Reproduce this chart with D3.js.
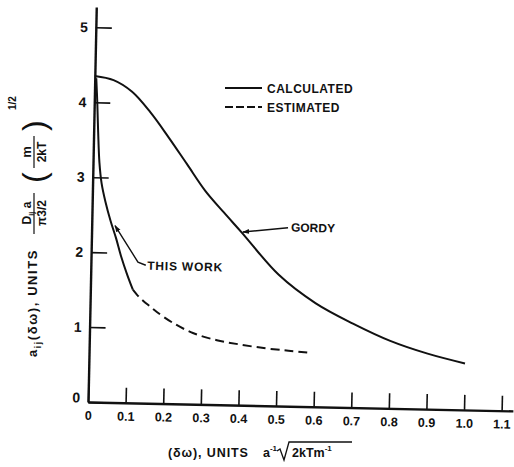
<!DOCTYPE html>
<html>
<head>
<meta charset="utf-8">
<script src="https://cdn.jsdelivr.net/npm/d3@7"></script>
<style>
  body { margin: 0; background: #fff; }
  text { font-family: "Liberation Sans", Arial, sans-serif; fill: #111; }
</style>
</head>
<body>
<svg id="chart" width="514" height="467"></svg>
<script>
// tick values / labels
const xTicks = [0, 0.1, 0.2, 0.3, 0.4, 0.5, 0.6, 0.7, 0.8, 0.9, 1.0, 1.1];
const xTickLabels = ['0', '0.1', '0.2', '0.3', '0.4', '0.5', '0.6', '0.7', '0.8', '0.9', '1.0', '1.1'];
const yTicks = [0, 1, 2, 3, 4, 5];

// Gordy curve (calculated)
const gordyX = [0, 0.05, 0.1, 0.15, 0.2, 0.25, 0.3, 0.35, 0.4, 0.5, 0.6, 0.7, 0.8, 0.9, 1.0];
const gordyY = [4.35, 4.30, 4.15, 3.88, 3.55, 3.20, 2.85, 2.57, 2.30, 1.75, 1.38, 1.12, 0.90, 0.74, 0.62];

// this work, calculated part
const workX = [0.004, 0.008, 0.012, 0.017, 0.024, 0.035, 0.05, 0.065, 0.08, 0.097, 0.113];
const workY = [4.32, 4.00, 3.60, 3.20, 2.92, 2.68, 2.42, 2.20, 1.95, 1.71, 1.51];

// this work, estimated part
const estX = [0.113, 0.125, 0.14, 0.16, 0.178, 0.221, 0.275, 0.339, 0.40, 0.47, 0.53, 0.58];
const estY = [1.51, 1.44, 1.37, 1.29, 1.22, 1.08, 0.95, 0.86, 0.81, 0.765, 0.74, 0.72];

const svg = d3.select('#chart');

// the scanned figure sits a little crooked
const tilt = 1.2;
const origin = [88, 402];

const x = d3.scaleLinear().domain([0, 1.13]).range([0, 425]);
const y = d3.scaleLinear().domain([0, 5.27]).range([0, -395]);

const g = svg.append('g')
  .attr('transform', 'translate(' + origin[0] + ',' + origin[1] + ') rotate(' + tilt + ')');

// arrow heads for the leaders
svg.append('defs').append('marker')
  .attr('id', 'arrow')
  .attr('viewBox', '0 0 10 10')
  .attr('refX', 9).attr('refY', 5)
  .attr('markerWidth', 7).attr('markerHeight', 7)
  .attr('markerUnits', 'userSpaceOnUse')
  .attr('orient', 'auto')
  .append('path')
  .attr('d', 'M0,1.5 L10,5 L0,8.5 Z')
  .attr('fill', '#111');

const xAxis = d3.axisBottom(x)
  .tickValues(xTicks)
  .tickFormat((d, i) => xTickLabels[i])
  .tickSizeInner(-15)
  .tickSizeOuter(0)
  .tickPadding(9);

const yAxis = d3.axisLeft(y)
  .tickValues(yTicks)
  .tickFormat(d3.format('d'))
  .tickSizeInner(-16)
  .tickSizeOuter(0)
  .tickPadding(8);

const gx = g.append('g').attr('class', 'x axis').call(xAxis);
const gy = g.append('g').attr('class', 'y axis').call(yAxis);

gx.selectAll('text').attr('font-size', 12.5).attr('font-weight', 'bold').attr('font-family', null);
gy.selectAll('text').attr('font-size', 14).attr('font-weight', 'bold').attr('font-family', null);
gy.selectAll('.tick').filter(d => d === 0).select('text').attr('dy', '0.0em');

g.selectAll('.domain').attr('stroke', '#111').attr('stroke-width', 2.4);
g.selectAll('.tick line').attr('stroke', '#111').attr('stroke-width', 1.6);

const line = d3.line()
  .x(d => x(d[0]))
  .y(d => y(d[1]))
  .curve(d3.curveCatmullRom.alpha(0.5));

g.append('path')
  .datum(d3.zip(gordyX, gordyY))
  .attr('d', line)
  .attr('fill', 'none')
  .attr('stroke', '#111')
  .attr('stroke-width', 2);

g.append('path')
  .datum(d3.zip(workX, workY))
  .attr('d', line)
  .attr('fill', 'none')
  .attr('stroke', '#111')
  .attr('stroke-width', 2);

g.append('path')
  .datum(d3.zip(estX, estY))
  .attr('d', line)
  .attr('fill', 'none')
  .attr('stroke', '#111')
  .attr('stroke-width', 2)
  .attr('stroke-dasharray', '9,5');

// leaders + notes
const leader = d3.line().x(d => x(d[0])).y(d => y(d[1]));

g.append('path')
  .datum([[0.522, 2.38], [0.402, 2.31]])
  .attr('d', leader)
  .attr('fill', 'none')
  .attr('stroke', '#111')
  .attr('stroke-width', 1.4)
  .attr('marker-end', 'url(#arrow)');

g.append('text')
  .attr('x', x(0.53)).attr('y', y(2.33))
  .attr('font-size', 12).attr('font-weight', 'bold')
  .text('GORDY');

g.append('path')
  .datum([[0.146, 1.84], [0.125, 1.88], [0.062, 2.36]])
  .attr('d', leader)
  .attr('fill', 'none')
  .attr('stroke', '#111')
  .attr('stroke-width', 1.4)
  .attr('marker-end', 'url(#arrow)');

g.append('text')
  .attr('x', x(0.15)).attr('y', y(1.78))
  .attr('font-size', 12).attr('font-weight', 'bold')
  .attr('letter-spacing', 0.8)
  .text('THIS WORK');

// legend
const legend = svg.append('g').attr('transform', 'translate(225,88)');
legend.append('line')
  .attr('x1', 0).attr('x2', 37).attr('y1', 0).attr('y2', 0)
  .attr('stroke', '#111').attr('stroke-width', 1.8);
legend.append('text')
  .attr('x', 42).attr('y', 4.5)
  .attr('font-size', 12).attr('font-weight', 'bold')
  .attr('letter-spacing', 0.5)
  .text('CALCULATED');
legend.append('line')
  .attr('x1', 0).attr('x2', 37).attr('y1', 19).attr('y2', 19)
  .attr('stroke', '#111').attr('stroke-width', 1.8)
  .attr('stroke-dasharray', '8,3');
legend.append('text')
  .attr('x', 42).attr('y', 23.5)
  .attr('font-size', 12).attr('font-weight', 'bold')
  .attr('letter-spacing', 0.5)
  .text('ESTIMATED');

// x axis title
const xt = svg.append('g');
xt.append('text')
  .attr('x', 168).attr('y', 457)
  .attr('font-size', 12.5).attr('font-weight', 'bold')
  .attr('letter-spacing', 0.9)
  .text('(δω), UNITS');
const xt2 = xt.append('text')
  .attr('x', 263).attr('y', 457)
  .attr('font-size', 12.5).attr('font-weight', 'bold');
xt2.append('tspan').text('a');
xt2.append('tspan').attr('font-size', 8).attr('dy', -6).text('-1');
xt.append('path')
  .attr('d', 'M277,451 L280,449 L284,460 L289,442 L352,442')
  .attr('fill', 'none').attr('stroke', '#111').attr('stroke-width', 1.3);
const xt3 = xt.append('text')
  .attr('x', 292).attr('y', 457)
  .attr('font-size', 12.5).attr('font-weight', 'bold');
xt3.append('tspan').text('2kTm');
xt3.append('tspan').attr('font-size', 8).attr('dy', -6).text('-1');

// y axis title (rotated, reads bottom to top)
const yt = svg.append('g').attr('transform', 'rotate(-90)');
const yt1 = yt.append('text')
  .attr('x', -357).attr('y', 37)
  .attr('font-size', 13).attr('font-weight', 'bold')
  .attr('letter-spacing', 1.6);
yt1.append('tspan').text('a');
yt1.append('tspan').attr('font-size', 8.5).attr('dy', 4).text('ij');
yt1.append('tspan').attr('dy', -4).text('(δω), UNITS');

// D_ij a / pi^(3/2)
const fr1 = yt.append('text')
  .attr('x', -213).attr('y', 31)
  .attr('text-anchor', 'middle')
  .attr('font-size', 12).attr('font-weight', 'bold');
fr1.append('tspan').text('D');
fr1.append('tspan').attr('font-size', 7.5).attr('dy', 3).text('ij');
fr1.append('tspan').attr('dy', -3).text(' a');
yt.append('line')
  .attr('x1', -234).attr('x2', -193).attr('y1', 34).attr('y2', 34)
  .attr('stroke', '#111').attr('stroke-width', 1.2);
yt.append('text')
  .attr('x', -213).attr('y', 46)
  .attr('text-anchor', 'middle')
  .attr('font-size', 12).attr('font-weight', 'bold')
  .text('π3/2');

// (m / 2kT)^(1/2)
yt.append('text')
  .attr('x', -183).attr('y', 45)
  .attr('font-size', 32)
  .text('(');
yt.append('text')
  .attr('x', -131).attr('y', 45)
  .attr('font-size', 32)
  .text(')');
yt.append('text')
  .attr('x', -152).attr('y', 31)
  .attr('text-anchor', 'middle')
  .attr('font-size', 13).attr('font-weight', 'bold')
  .text('m');
yt.append('line')
  .attr('x1', -168).attr('x2', -136).attr('y1', 34).attr('y2', 34)
  .attr('stroke', '#111').attr('stroke-width', 1.2);
yt.append('text')
  .attr('x', -152).attr('y', 46)
  .attr('text-anchor', 'middle')
  .attr('font-size', 12).attr('font-weight', 'bold')
  .text('2kT');
yt.append('text')
  .attr('x', -110).attr('y', 16)
  .attr('font-size', 10).attr('font-weight', 'bold')
  .text('1/2');
</script>
</body>
</html>
